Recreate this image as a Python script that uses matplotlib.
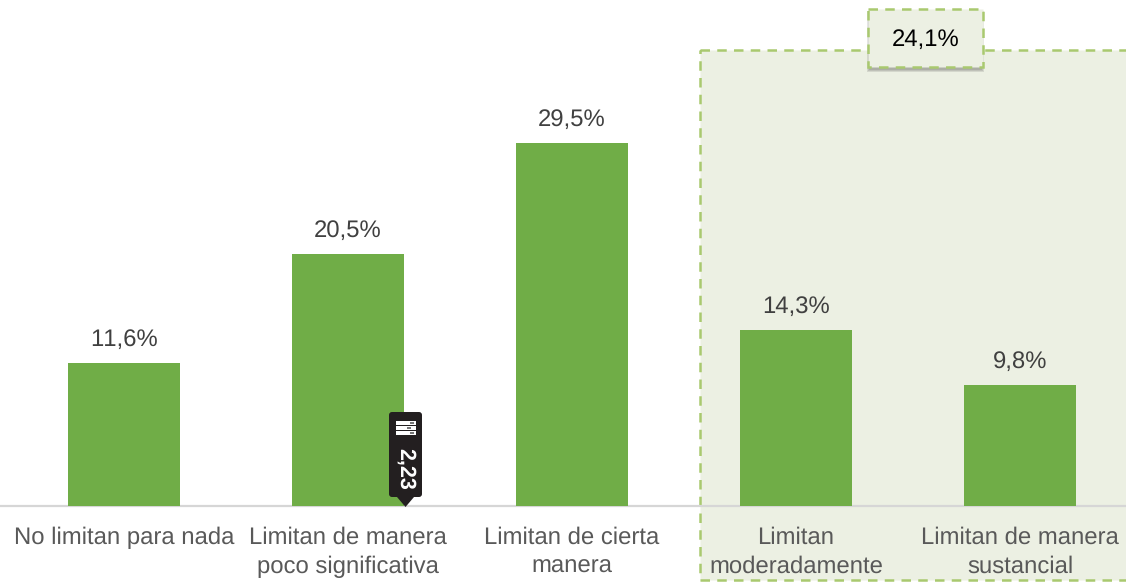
import matplotlib
matplotlib.use("Agg")
import matplotlib.pyplot as plt
from matplotlib.patches import Rectangle, FancyBboxPatch, Polygon

categories = ["No limitan para nada", "Limitan de manera\npoco significativa",
              "Limitan de cierta\nmanera", "Limitan\nmoderadamente",
              "Limitan de manera\nsustancial"]
values = [11.6, 20.5, 29.5, 14.3, 9.8]
value_labels = ["11,6%", "20,5%", "29,5%", "14,3%", "9,8%"]
group_label = "24,1%"
badge_label = "2,23"

plt.rcParams['font.family'] = ['Liberation Sans', 'DejaVu Sans']
plt.rcParams['text.kerning_factor'] = 6
plt.rcParams['text.hinting'] = 'no_hinting'
W, H = 1126, 583
fig = plt.figure(figsize=(W/100, H/100), dpi=100, facecolor='white')
FS = 17.2
DASH = (0, (3.8, 2.9))

# pixel-space background layer
bg = fig.add_axes([0, 0, 1, 1], zorder=0)
bg.set_xlim(0, W); bg.set_ylim(H, 0); bg.axis('off')
GREEN_D = '#A9C96F'
bg.add_patch(Rectangle((700, 50), 460, 530, fc='#ECF0E3', ec=GREEN_D, lw=1.8,
                       ls=DASH, zorder=1))

# chart layer
ppu = 12.29
ax = fig.add_axes([0, 0, 1, 1], zorder=1)
ax.patch.set_alpha(0)
ax.set_xlim(-124/224, (W-124)/224)
ax.set_ylim(-(H-505.5)/ppu, 505.5/ppu)
ax.axis('off')
x = list(range(len(values)))
ax.axhline(0, color='#D6D6D6', lw=1.6, zorder=1)
ax.bar(x, values, width=112/224, color='#70AD47', zorder=2)
for xi, v, l in zip(x, values, value_labels):
    ax.annotate(l, (xi, v), xytext=(0, 12), textcoords='offset pixels', ha='center',
                va='bottom', fontsize=FS, color='#404040')
for xi, c in zip(x, categories):
    ax.annotate(c, (xi, 0), xytext=(0, -21), textcoords='offset pixels', ha='center',
                va='top', fontsize=FS, color='#595959', linespacing=1.38)

# overlay layer
ov = fig.add_axes([0, 0, 1, 1], zorder=2)
ov.patch.set_alpha(0)
ov.set_xlim(0, W); ov.set_ylim(H, 0); ov.axis('off')
for grow in (3, 2, 1):
    ov.add_patch(Rectangle((869-grow+1, 13-grow+1), 113+2*grow-2, 57+2*grow-2, fc='#333333',
                           ec='none', alpha=0.13, zorder=2.5))
ov.add_patch(Rectangle((868, 9), 115, 58, fc='#ECF0E3', ec=GREEN_D, lw=1.8,
                       ls=DASH, zorder=3))
ov.text(925.5, 40, group_label, ha='center', va='center', fontsize=FS, color='black', zorder=4)

# badge
ov.add_patch(FancyBboxPatch((392, 415), 27, 79, boxstyle='round,pad=3,rounding_size=3',
                            fc='#231F20', ec='none', zorder=5))
ov.add_patch(Polygon([[397, 497], [414, 497], [405.5, 507]], closed=True, fc='#231F20', ec='none', zorder=5))
for yy, xe in [(423, 414), (428, 411), (433, 414)]:
    ov.add_patch(Rectangle((396, yy-2), 20, 4, fc='white', ec='none', zorder=6))
    ov.add_patch(Rectangle((xe-4, yy-0.7), 4, 1.2, fc='#777777', ec='none', zorder=7))
ov.text(405, 469, badge_label, rotation=270, ha='center', va='center', fontsize=15.5,
        fontweight='bold', color='white', zorder=6)

fig.savefig('out.png', dpi=100)
